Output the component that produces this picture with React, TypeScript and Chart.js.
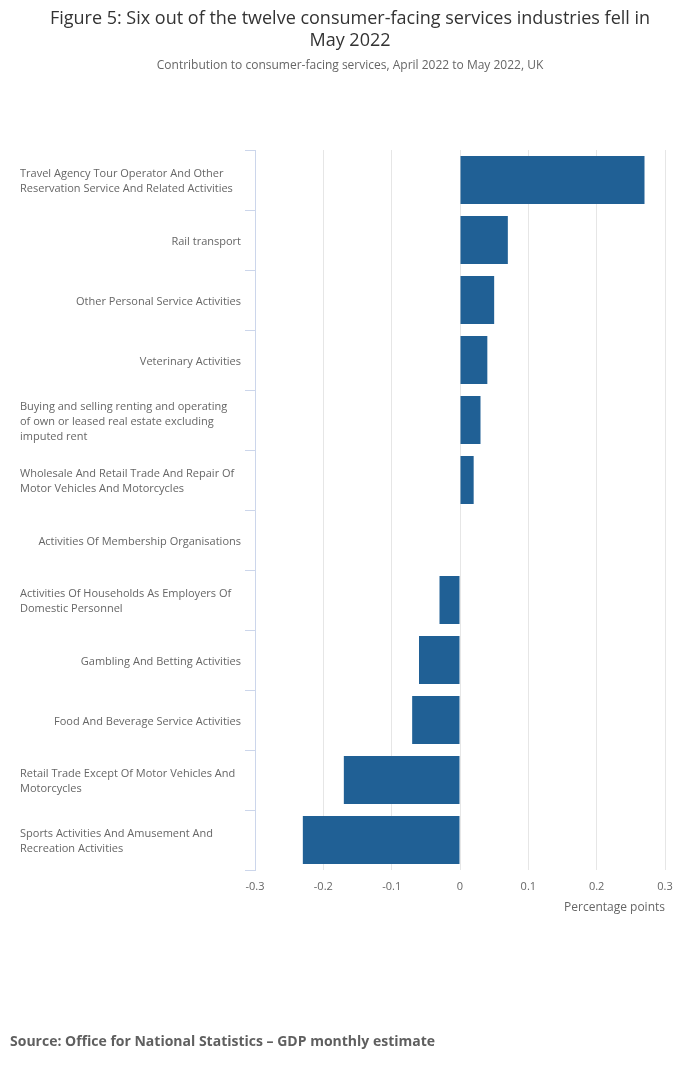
import { useEffect, useRef } from "react";
import { Chart, registerables, type ChartConfiguration, type Plugin } from "chart.js";

Chart.register(...registerables);

const FONT = "'Open Sans', sans-serif";

const titleLines = [
  "Figure 5: Six out of the twelve consumer-facing services industries fell in",
  "May 2022",
];
const subtitle = "Contribution to consumer-facing services, April 2022 to May 2022, UK";
const sourceText = "Source: Office for National Statistics \u2013 GDP monthly estimate";
const axisTitle = "Percentage points";

const categories: string[][] = [
  ["Travel Agency Tour Operator And Other", "Reservation Service And Related Activities"],
  ["Rail transport"],
  ["Other Personal Service Activities"],
  ["Veterinary Activities"],
  ["Buying and selling renting and operating", "of own or leased real estate excluding", "imputed rent"],
  ["Wholesale And Retail Trade And Repair Of", "Motor Vehicles And Motorcycles"],
  ["Activities Of Membership Organisations"],
  ["Activities Of Households As Employers Of", "Domestic Personnel"],
  ["Gambling And Betting Activities"],
  ["Food And Beverage Service Activities"],
  ["Retail Trade Except Of Motor Vehicles And", "Motorcycles"],
  ["Sports Activities And Amusement And", "Recreation Activities"],
];

const contributions = [0.27, 0.07, 0.05, 0.04, 0.03, 0.02, 0, -0.03, -0.06, -0.07, -0.17, -0.23];

const xMin = -0.3;
const xMax = 0.3;
const xStep = 0.1;

// titles, category labels and source line
const textPlugin: Plugin<"bar"> = {
  id: "textPlugin",
  afterDraw(chart) {
    const { ctx } = chart;
    const w = chart.width;
    ctx.save();
    ctx.textBaseline = "middle";

    ctx.fillStyle = "#333333";
    ctx.font = `18px ${FONT}`;
    ctx.textAlign = "center";
    titleLines.forEach((t, i) => ctx.fillText(t, w / 2, 19 + i * 22));

    ctx.fillStyle = "#666666";
    ctx.font = `12px ${FONT}`;
    ctx.fillText(subtitle, w / 2, 66);

    const y = chart.scales.y;
    ctx.font = `11px ${FONT}`;
    ctx.fillStyle = "#666666";
    categories.forEach((lines, i) => {
      const cy = y.getPixelForTick(i) + 1.5;
      const start = cy - ((lines.length - 1) * 15) / 2;
      if (lines.length > 1) {
        ctx.textAlign = "left";
        lines.forEach((l, j) => ctx.fillText(l, 20, start + j * 15));
      } else {
        ctx.textAlign = "right";
        ctx.fillText(lines[0], 241, cy);
      }
    });

    ctx.textAlign = "left";
    ctx.font = `bold 14px ${FONT}`;
    ctx.fillStyle = "#5f5f5f";
    ctx.fillText(sourceText, 10, 1042);
    ctx.restore();
  },
};

const App = () => {
  const chartRef = useRef<HTMLCanvasElement | null>(null);
  const chartInstance = useRef<Chart | null>(null);

  useEffect(() => {
    if (chartRef.current) {
      const config: ChartConfiguration<"bar"> = {
        type: "bar",
        data: {
          labels: categories.map((c) => c.join(" ")),
          datasets: [
            {
              label: "Contribution",
              data: contributions,
              backgroundColor: "#206095",
              barPercentage: 0.8,
              categoryPercentage: 1,
            },
          ],
        },
        options: {
          indexAxis: "y",
          animation: false,
          responsive: true,
          maintainAspectRatio: false,
          layout: { padding: { top: 150, left: 10, right: 35, bottom: 152 } },
          plugins: {
            legend: { display: false },
            title: { display: false },
            tooltip: { enabled: false },
          },
          scales: {
            x: {
              min: xMin,
              max: xMax,
              border: { display: false },
              grid: { color: "#e6e6e6", drawTicks: false },
              ticks: {
                stepSize: xStep,
                padding: 10,
                color: "#666666",
                font: { family: FONT, size: 11 },
                callback: (v) => String(Number(Number(v).toFixed(1))),
              },
              title: {
                display: true,
                text: axisTitle,
                align: "end",
                color: "#666666",
                font: { family: FONT, size: 12 },
                padding: { top: 4, bottom: 0 },
              },
              afterFit: (s) => {
                s.height = 45;
              },
            },
            y: {
              border: { display: true, color: "#ccd6eb" },
              grid: {
                offset: true,
                drawOnChartArea: false,
                drawTicks: true,
                tickLength: 10,
                color: "#ccd6eb",
              },
              ticks: { display: false },
              afterFit: (s) => {
                s.width = 245;
              },
            },
          },
        },
        plugins: [textPlugin],
      };
      chartInstance.current = new Chart(chartRef.current, config);
    }
    return () => {
      chartInstance.current?.destroy();
    };
  }, []);

  return (
    <div style={{ position: "absolute", left: 0, top: 0, width: 700, height: 1067, background: "#fff" }}>
      <canvas ref={chartRef}></canvas>
    </div>
  );
};

export default App;
